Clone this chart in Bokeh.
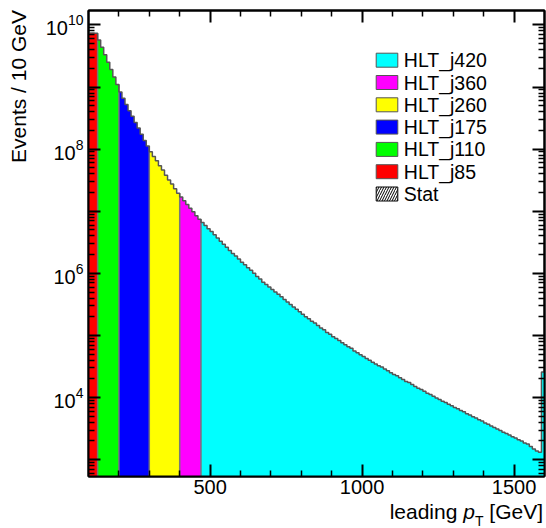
import math
from bokeh.plotting import figure
from bokeh.models import (Range1d, FixedTicker, LogAxis, LinearAxis, CustomJSTickFormatter,
                          LogTickFormatter, Label, BoxAnnotation, Div)
from bokeh.layouts import column, row
from bokeh.embed import file_html
from bokeh.resources import INLINE

# ---------------- data ----------------
bin_width = 10
pt_low = list(range(100, 1600, bin_width))  # lower bin edges [GeV]
events = [
    7.4e9, 7.45e9, 7.35e9, 5.75e9, 4.37e9, 3.31e9, 2.51e9, 1.91e9, 1.45e9, 1.10e9,
    8.3e8, 6.6e8, 5.25e8, 4.17e8, 3.39e8, 2.69e8, 2.19e8, 1.74e8, 1.38e8, 1.12e8,
    9.1e7, 7.6e7, 6.5e7, 5.4e7, 4.6e7, 3.8e7, 3.2e7, 2.75e7, 2.3e7, 1.95e7,
    1.70e7, 1.48e7, 1.29e7, 1.12e7, 9.8e6, 8.5e6, 7.4e6, 6.6e6, 5.9e6, 5.25e6,
    4.7e6, 4.2e6, 3.7e6, 3.3e6, 2.95e6, 2.63e6, 2.34e6, 2.09e6, 1.91e6, 1.70e6,
    1.51e6, 1.38e6, 1.23e6, 1.12e6, 1.00e6, 8.9e5, 8.1e5, 7.2e5, 6.6e5, 6.0e5,
    5.5e5, 5.0e5, 4.6e5, 4.2e5, 3.8e5, 3.47e5, 3.16e5, 2.88e5, 2.63e5, 2.40e5,
    2.19e5, 2.0e5, 1.86e5, 1.70e5, 1.58e5, 1.45e5, 1.32e5, 1.23e5, 1.12e5, 1.05e5,
    9.5e4, 8.9e4, 8.3e4, 7.6e4, 7.1e4, 6.6e4, 6.2e4, 5.6e4, 5.25e4, 4.9e4,
    4.6e4, 4.27e4, 4.0e4, 3.7e4, 3.47e4, 3.24e4, 3.09e4, 2.88e4, 2.69e4, 2.51e4,
    2.34e4, 2.24e4, 2.09e4, 1.95e4, 1.82e4, 1.74e4, 1.62e4, 1.51e4, 1.41e4, 1.35e4,
    1.26e4, 1.17e4, 1.12e4, 1.05e4, 9.8e3, 9.3e3, 8.7e3, 8.3e3, 7.8e3, 7.4e3,
    6.9e3, 6.6e3, 6.2e3, 5.9e3, 5.5e3, 5.25e3, 4.9e3, 4.7e3, 4.4e3, 4.2e3,
    3.9e3, 3.7e3, 3.47e3, 3.3e3, 3.1e3, 2.95e3, 2.75e3, 2.63e3, 2.5e3, 2.34e3,
    2.24e3, 2.09e3, 2.0e3, 1.86e3, 1.78e3, 1.62e3, 1.48e3, 1.38e3, 1.32e3, 2.57e4,
]

triggers = ["HLT_j85", "HLT_j110", "HLT_j175", "HLT_j260", "HLT_j360", "HLT_j420"]
trigger_lo = [100, 130, 200, 300, 400, 470]
trigger_hi = [130, 200, 300, 400, 470, 1600]
trigger_colors = ["#ff0000", "#00ff00", "#0000ff", "#ffff00", "#ff00ff", "#00ffff"]

x_ticks = [500, 1000, 1500]
x_tick_labels = ["500", "1000", "1500"]
x_minor = [200, 300, 400, 600, 700, 800, 900, 1100, 1200, 1300, 1400]
y_decades = [1e3, 1e4, 1e5, 1e6, 1e7, 1e8, 1e9, 1e10]
y_label_ticks = [1e4, 1e6, 1e8, 1e10]

x_title_html = 'leading <i>p</i><sub style="font-size:14px;vertical-align:-7px;line-height:0">T</sub> [GeV]'
y_title = "Events / 10 GeV"
stat_name = "Stat"

# ---------------- layout ----------------
W_TOTAL, H_TOTAL = 546, 528
YT_W = 30                      # strip holding the y-axis title
XT_H = 24                      # strip holding the x-axis title
W = W_TOTAL - YT_W
H = H_TOTAL - XT_H
FL, FR, FT, FB = 88 - YT_W, 544 - YT_W, 10, 476   # frame edges inside the figure
FONT = "Liberation Sans"
TICK_PX = 20
TITLE_PX = 21
LEG_PX = 19.5
FLOOR = 1.0

p = figure(width=W, height=H, x_range=Range1d(100, 1600), y_range=Range1d(535, 1.71e10),
           y_axis_type="log", output_backend="svg", toolbar_location=None,
           min_border_left=FL, min_border_right=W - FR, min_border_top=FT,
           min_border_bottom=H - FB)
p.xgrid.visible = False
p.ygrid.visible = False
p.background_fill_color = "white"
p.border_fill_color = "white"
p.outline_line_color = "black"
p.outline_line_width = 2

blank = CustomJSTickFormatter(code="return ''")


def style_axis(ax):
    ax.axis_line_color = "black"
    ax.axis_line_width = 2
    ax.major_tick_in = 12
    ax.major_tick_out = 0
    ax.minor_tick_in = 6
    ax.minor_tick_out = 0
    ax.major_tick_line_width = 2
    ax.minor_tick_line_width = 1.5
    ax.major_tick_line_color = "black"
    ax.minor_tick_line_color = "black"


y_minor = [k * d for d in [1e2] + y_decades for k in range(2, 10)]
xt = FixedTicker(ticks=x_ticks, minor_ticks=x_minor)
yt = FixedTicker(ticks=y_decades, minor_ticks=y_minor)

xa = p.xaxis[0]
xa.ticker = xt
xa.major_label_overrides = {t: s for t, s in zip(x_ticks, x_tick_labels)}
xa.major_label_text_font = FONT
xa.major_label_text_font_size = f"{TICK_PX}px"
xa.major_label_text_color = "black"
xa.major_label_standoff = 3
style_axis(xa)

ya = p.yaxis[0]
ya.ticker = yt
ya.formatter = LogTickFormatter()
ya.major_label_overrides = {d: "" for d in y_decades if d not in y_label_ticks}
ya.major_label_text_font = FONT
ya.major_label_text_font_size = f"{TICK_PX}px"
ya.major_label_text_color = "black"
ya.major_label_standoff = 5
style_axis(ya)

ra = LogAxis(ticker=yt, formatter=blank, major_label_standoff=0)
style_axis(ra)
p.add_layout(ra, "right")
ta = LinearAxis(ticker=xt, formatter=blank, major_label_standoff=0)
style_axis(ta)
p.add_layout(ta, "above")

# ---------------- histogram ----------------
for lo, hi, col in zip(trigger_lo, trigger_hi, trigger_colors):
    xs, ys = [lo], [FLOOR]
    for x0, v in zip(pt_low, events):
        if lo <= x0 < hi:
            xs += [x0, x0 + bin_width]
            ys += [v, v]
    xs.append(hi)
    ys.append(FLOOR)
    p.patch(xs, ys, fill_color=col, line_color=None)

sep_x = trigger_lo[1:]
sep_top = [events[pt_low.index(b - bin_width)] for b in sep_x]
p.segment(x0=sep_x, y0=[FLOOR] * len(sep_x), x1=sep_x, y1=sep_top,
          line_color="#777777", line_width=1.5)

p.step(x=pt_low + [pt_low[-1] + bin_width], y=events + [events[-1]], mode="after",
       line_color="#555555", line_width=1.5)

# ---------------- legend ----------------
leg_names = list(reversed(triggers)) + [stat_name]
leg_colors = list(reversed(trigger_colors)) + ["white"]
box_l, box_r, box_h = 375.7 - YT_W, 397.3 - YT_W, 14
text_x = 403.3 - YT_W
row0, row_dy = 59.7, 22.3
for i, (name, col) in enumerate(zip(leg_names, leg_colors)):
    yc = row0 + row_dy * i
    kw = dict(left=box_l - FL, right=box_r - FL, top=FB - (yc - box_h / 2),
              bottom=FB - (yc + box_h / 2), left_units="screen", right_units="screen",
              top_units="screen", bottom_units="screen", fill_color=col, fill_alpha=1,
              line_color="#555555" if name != stat_name else "black", line_alpha=1,
              line_width=1)
    if name == stat_name:
        kw.update(hatch_pattern="/", hatch_color="black", hatch_scale=5, hatch_weight=1)
    p.add_layout(BoxAnnotation(**kw))
    p.add_layout(Label(x=text_x - FL, y=FB - yc, x_units="screen", y_units="screen",
                       text=name, text_align="left", text_baseline="middle",
                       text_font=FONT, text_font_size=f"{LEG_PX}px", text_color="black"))

# ---------------- axis titles (rich text strips) ----------------
xtitle = Div(text=x_title_html, width=W, height=XT_H, margin=0,
             styles={"font-family": FONT, "font-size": f"{TITLE_PX}px",
                     "text-align": "right", "color": "black", "line-height": "16px",
                     "padding-right": "3px", "box-sizing": "border-box",
                     "background-color": "white", "overflow": "visible"})

ytitle_html = (
    '<div style="position:absolute;left:8px;top:10px;transform-origin:0 0;'
    'transform:rotate(-90deg) translate(-100%,0);white-space:nowrap;'
    f'font-family:{FONT};font-size:{TITLE_PX}px;line-height:{TITLE_PX}px;color:black">'
    f'{y_title}</div>'
)
ytitle = Div(text=ytitle_html, width=YT_W, height=H_TOTAL, margin=0,
             styles={"position": "relative", "background-color": "white",
                     "overflow": "visible"})

layout = row(ytitle, column(p, xtitle, spacing=0), spacing=0)
open("out.html", "w").write(file_html(layout, INLINE))
